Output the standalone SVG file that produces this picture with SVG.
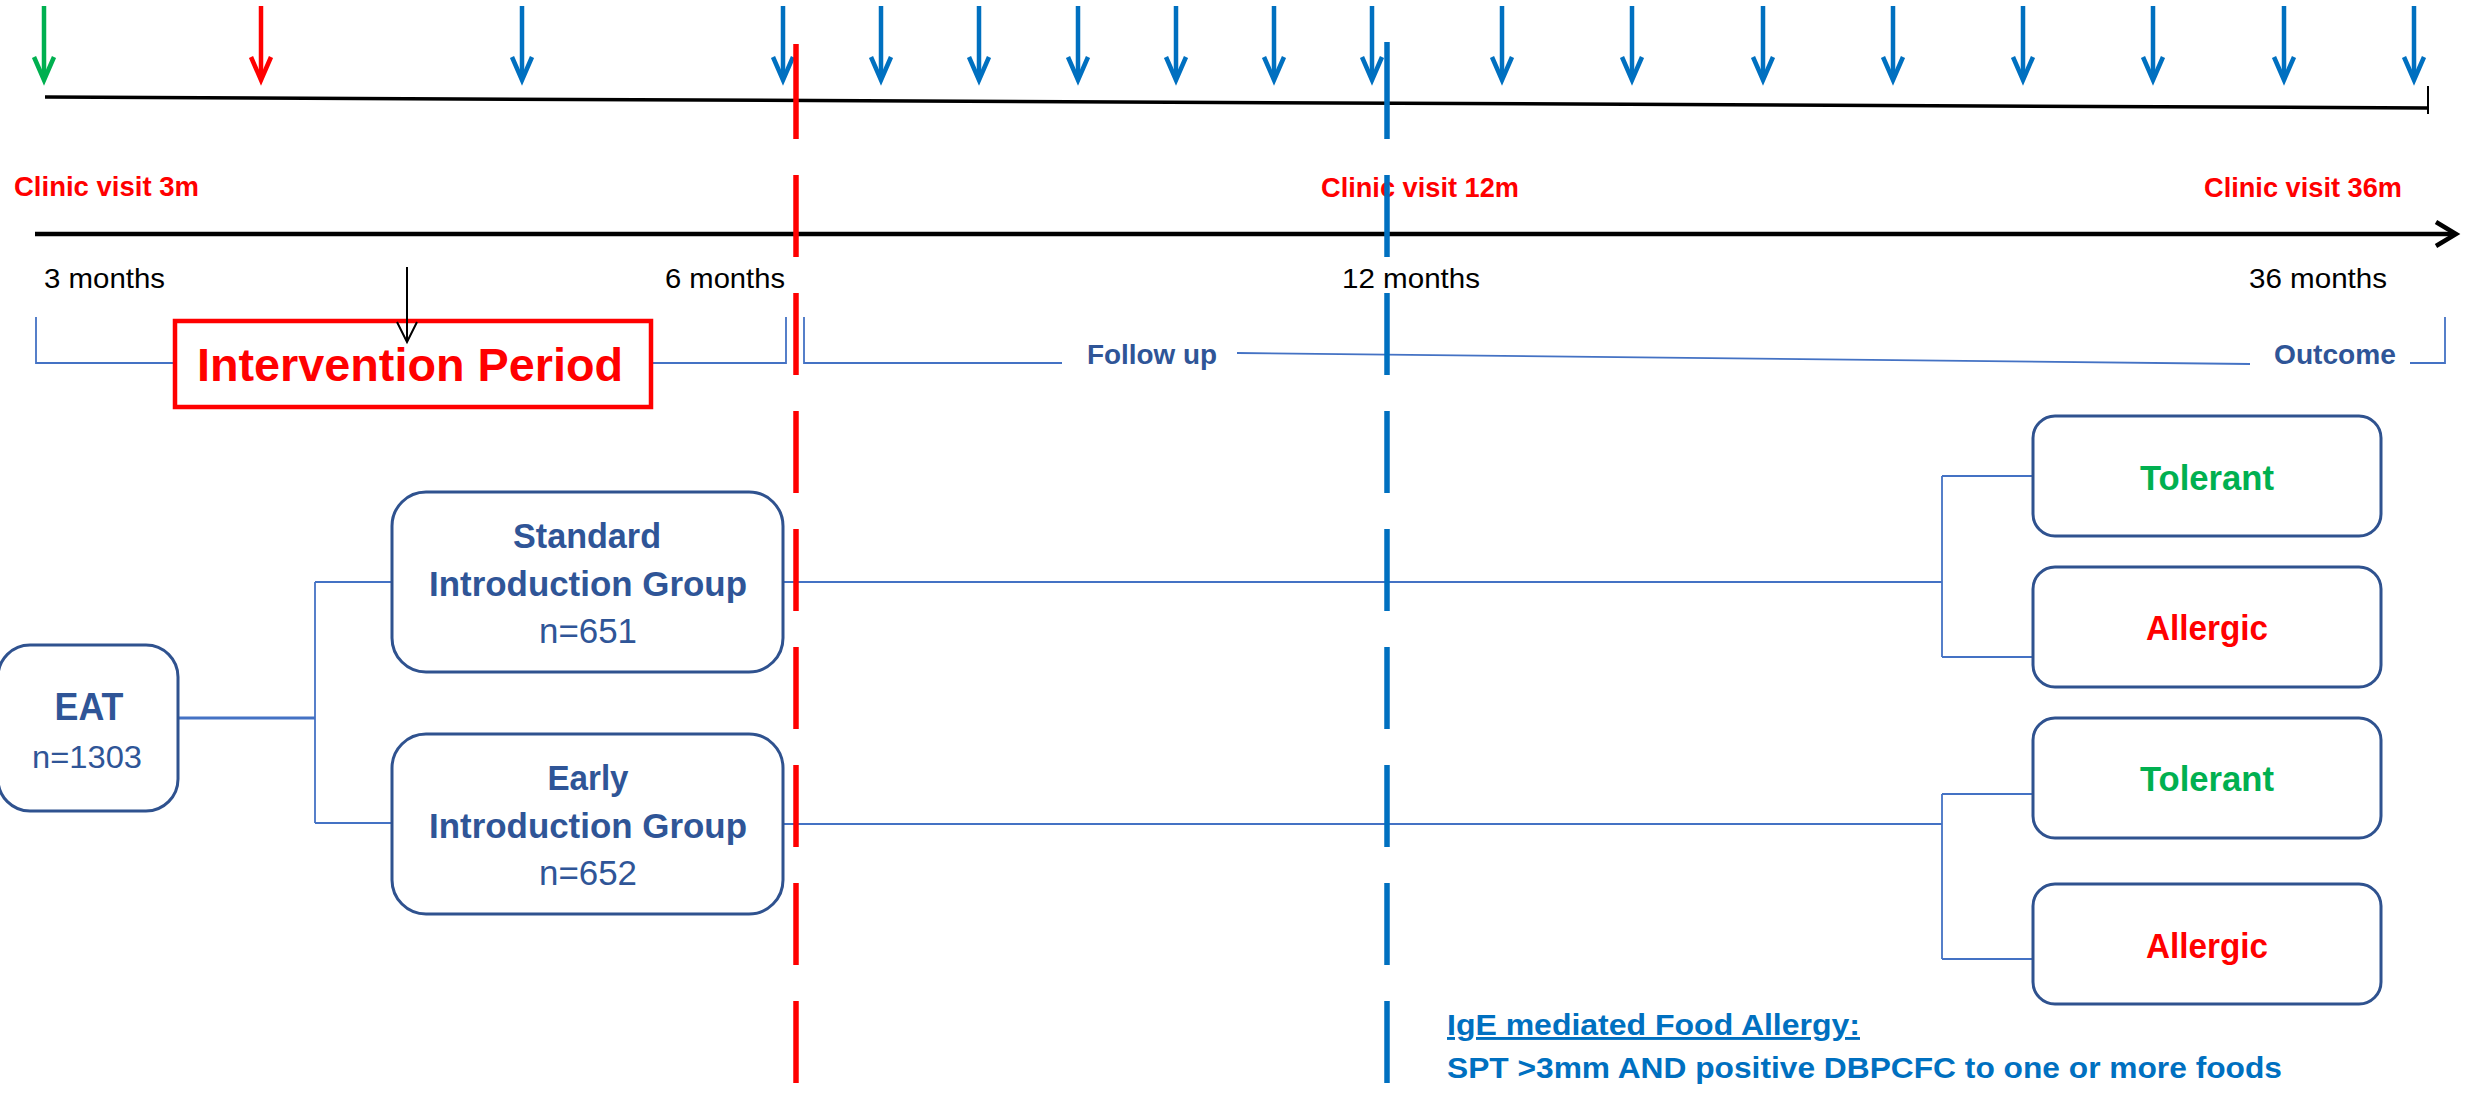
<svg xmlns="http://www.w3.org/2000/svg" width="2481" height="1094" viewBox="0 0 2481 1094">
<defs>
<style>
.t{font-family:"Liberation Sans",Arial,sans-serif}
.b{font-weight:bold}
.red{fill:#FF0000}
.grn{fill:#00B050}
.nb{fill:#2F5597}
.blk{fill:#000}
.box{fill:#fff;stroke:#2F528F;stroke-width:3}
.conn{fill:none;stroke:#4472C4;stroke-width:1.8}
.arr{fill:none;stroke-width:4.5;stroke-linejoin:miter}
</style>
</defs>
<rect width="2481" height="1094" fill="#fff"/>

<!-- top visit arrows -->
<g id="visit-arrows">
<g stroke="#00B050" class="arr"><path d="M44 6V78"/><path d="M34 57L44 80L54 57"/></g>
<g stroke="#FF0000" class="arr"><path d="M261 6V78"/><path d="M251 57L261 80L271 57"/></g>
<g stroke="#0070C0" class="arr">
<path d="M522 6V78M783 6V78M881 6V78M979 6V78M1078 6V78M1176 6V78M1274 6V78M1372 6V78M1502 6V78M1632 6V78M1763 6V78M1893 6V78M2023 6V78M2153 6V78M2284 6V78M2414 6V78"/>
<path d="M512 57L522 80L532 57M773 57L783 80L793 57M871 57L881 80L891 57M969 57L979 80L989 57M1068 57L1078 80L1088 57M1166 57L1176 80L1186 57M1264 57L1274 80L1284 57M1362 57L1372 80L1382 57M1492 57L1502 80L1512 57M1622 57L1632 80L1642 57M1753 57L1763 80L1773 57M1883 57L1893 80L1903 57M2013 57L2023 80L2033 57M2143 57L2153 80L2163 57M2274 57L2284 80L2294 57M2404 57L2414 80L2424 57"/>
</g>
<path d="M45 97L2428 108" stroke="#000" stroke-width="3.5"/>
<path d="M2428 86V114" stroke="#000" stroke-width="2"/>
</g>

<!-- main timeline -->
<g id="timeline">
<path d="M35 234H2454" stroke="#000" stroke-width="4.5"/>
<path d="M2436 222L2456 234L2436 246" fill="none" stroke="#000" stroke-width="4.5"/>
<text class="t b red" x="14" y="196" font-size="28" textLength="185" lengthAdjust="spacingAndGlyphs">Clinic visit 3m</text>
<text class="t b red" x="1321" y="197" font-size="28" textLength="198" lengthAdjust="spacingAndGlyphs">Clinic visit 12m</text>
<text class="t b red" x="2204" y="197" font-size="28" textLength="198" lengthAdjust="spacingAndGlyphs">Clinic visit 36m</text>
<text class="t blk" x="44" y="288" font-size="28" textLength="121" lengthAdjust="spacingAndGlyphs">3 months</text>
<text class="t blk" x="665" y="288" font-size="28" textLength="120" lengthAdjust="spacingAndGlyphs">6 months</text>
<text class="t blk" x="1342" y="288" font-size="28" textLength="138" lengthAdjust="spacingAndGlyphs">12 months</text>
<text class="t blk" x="2249" y="288" font-size="28" textLength="138" lengthAdjust="spacingAndGlyphs">36 months</text>
</g>

<!-- period brackets -->
<g id="period-brackets" class="conn">
<path d="M36 317V363H175"/>
<path d="M651 363H786V317"/>
<path d="M804 317V363H1062"/>
<path d="M1237 353L2250 364"/>
<path d="M2410 363H2445V317"/>
</g>
<text class="t b nb" x="1087" y="364" font-size="27" textLength="130" lengthAdjust="spacingAndGlyphs">Follow up</text>
<text class="t b nb" x="2274" y="364" font-size="27" textLength="122" lengthAdjust="spacingAndGlyphs">Outcome</text>

<g id="intervention">
<rect x="175" y="321" width="476" height="86" fill="#fff" stroke="#FF0000" stroke-width="4.5"/>
<text class="t b red" x="197" y="381" font-size="46" textLength="426" lengthAdjust="spacingAndGlyphs">Intervention Period</text>
</g>
<g id="intervention-arrow">
<path d="M407 267V340" stroke="#000" stroke-width="2"/>
<path d="M397 322L407 342L417 322" fill="none" stroke="#000" stroke-width="2"/>
</g>

<!-- connectors -->
<g id="connectors" class="conn">
<path d="M178 718H315" stroke-width="3"/>
<path d="M315 582V823"/>
<path d="M315 582H392M315 823H392"/>
<path d="M783 582H1942"/>
<path d="M1942 476V657M1942 476H2033M1942 657H2033"/>
<path d="M783 824H1942"/>
<path d="M1942 794V959M1942 794H2033M1942 959H2033"/>
</g>

<!-- nodes -->
<g id="eat">
<rect class="box" x="-2" y="645" width="180" height="166" rx="32"/>
<text class="t b nb" x="89" y="720" font-size="38" text-anchor="middle" textLength="69" lengthAdjust="spacingAndGlyphs">EAT</text>
<text class="t nb" x="87" y="768" font-size="31" text-anchor="middle" textLength="110" lengthAdjust="spacingAndGlyphs">n=1303</text>
</g>
<g id="standard">
<rect class="box" x="392" y="492" width="391" height="180" rx="34"/>
<text class="t b nb" x="587" y="548" font-size="35" text-anchor="middle" textLength="148" lengthAdjust="spacingAndGlyphs">Standard</text>
<text class="t b nb" x="588" y="596" font-size="35" text-anchor="middle" textLength="318" lengthAdjust="spacingAndGlyphs">Introduction Group</text>
<text class="t nb" x="588" y="643" font-size="35" text-anchor="middle" textLength="98" lengthAdjust="spacingAndGlyphs">n=651</text>
</g>
<g id="early">
<rect class="box" x="392" y="734" width="391" height="180" rx="34"/>
<text class="t b nb" x="588" y="790" font-size="35" text-anchor="middle" textLength="81" lengthAdjust="spacingAndGlyphs">Early</text>
<text class="t b nb" x="588" y="838" font-size="35" text-anchor="middle" textLength="318" lengthAdjust="spacingAndGlyphs">Introduction Group</text>
<text class="t nb" x="588" y="885" font-size="35" text-anchor="middle" textLength="98" lengthAdjust="spacingAndGlyphs">n=652</text>
</g>
<g id="tolerant1">
<rect class="box" x="2033" y="416" width="348" height="120" rx="22"/>
<text class="t b grn" x="2207" y="490" font-size="35" text-anchor="middle" textLength="134" lengthAdjust="spacingAndGlyphs">Tolerant</text>
</g>
<g id="allergic1">
<rect class="box" x="2033" y="567" width="348" height="120" rx="22"/>
<text class="t b red" x="2207" y="640" font-size="35" text-anchor="middle" textLength="122" lengthAdjust="spacingAndGlyphs">Allergic</text>
</g>
<g id="tolerant2">
<rect class="box" x="2033" y="718" width="348" height="120" rx="22"/>
<text class="t b grn" x="2207" y="791" font-size="35" text-anchor="middle" textLength="134" lengthAdjust="spacingAndGlyphs">Tolerant</text>
</g>
<g id="allergic2">
<rect class="box" x="2033" y="884" width="348" height="120" rx="22"/>
<text class="t b red" x="2207" y="958" font-size="35" text-anchor="middle" textLength="122" lengthAdjust="spacingAndGlyphs">Allergic</text>
</g>

<!-- dashed period markers -->
<g id="markers" fill="none" stroke-width="5.5">
<path d="M796 44V139" stroke="#FF0000"/>
<path d="M796 175V1094" stroke="#FF0000" stroke-dasharray="82 36"/>
<path d="M1387 42V139" stroke="#0070C0"/>
<path d="M1387 175V1094" stroke="#0070C0" stroke-dasharray="82 36"/>
</g>

<g id="definition">
<text class="t b" fill="#0070C0" x="1447" y="1035" font-size="29" textLength="413" lengthAdjust="spacingAndGlyphs" text-decoration="underline">IgE mediated Food Allergy:</text>
<text class="t b" fill="#0070C0" x="1447" y="1078" font-size="29" textLength="835" lengthAdjust="spacingAndGlyphs">SPT &gt;3mm AND positive DBPCFC to one or more foods</text>
</g>
</svg>
